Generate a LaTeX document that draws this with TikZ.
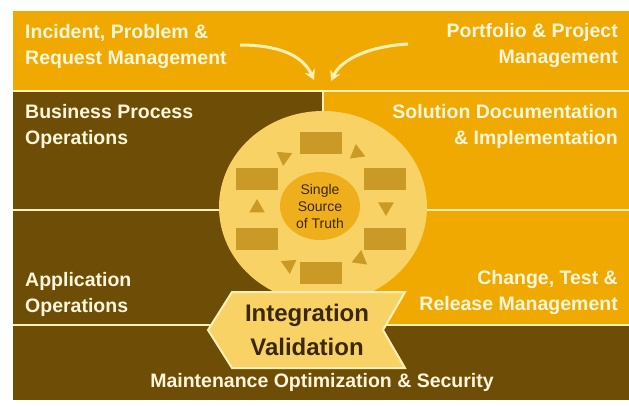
\documentclass[tikz,border=0pt]{standalone}
\usepackage{fontspec}
\setmainfont{Liberation Sans}
\usetikzlibrary{arrows.meta}
\definecolor{bandorange}{HTML}{F0A900}
\definecolor{banddark}{HTML}{6E4E06}
\definecolor{linecream}{HTML}{FFF0B8}
\definecolor{wheellight}{HTML}{F9D266}
\definecolor{huborange}{HTML}{EFAF1C}
\definecolor{slotgold}{HTML}{C99A25}
\definecolor{labelcream}{HTML}{FFF6DC}
\definecolor{inkbrown}{HTML}{3A2805}

\begin{document}
\begin{tikzpicture}[x=1pt,y=-1pt,
	bandtext/.style={text=labelcream, font=\bfseries\fontsize{19.5}{26}\selectfont, inner sep=0pt},
	divider/.style={linecream, line width=2.5pt},
	flowarrow/.style={linecream, line width=3pt, -{Stealth[length=10pt,width=11pt]}}]
	\useasboundingbox (0,0) rectangle (629,406);
	\fill[white] (0,0) rectangle (629,406);
	% bands
	\fill[bandorange] (13,11) rectangle (629,91);
	\fill[banddark] (13,91) rectangle (629,400);
	\fill[bandorange] (323,91) rectangle (629,325);
	\draw[divider] (13,91) -- (629,91);
	\draw[divider] (13,210) -- (629,210);
	\draw[divider] (13,325) -- (629,325);
	\draw[divider] (323,91) -- (323,120);
	% wheel
	\fill[wheellight] (323,207) ellipse [x radius=104, y radius=96];
	\foreach \cx/\cy in {321/143, 257/179, 385/179, 257/239, 385/239, 321/273}
		\fill[slotgold] (\cx-21,\cy-11) rectangle (\cx+21,\cy+11);
	\foreach \cx/\cy/\a in {284/157/95, 357/153/262, 257/208/270, 386/207/90, 289/265/85, 360/259/278}
		\fill[slotgold] (\cx,\cy) +(\a:9) -- +(\a+120:9) -- +(\a+240:9) -- cycle;
	\fill[huborange] (320,206) ellipse [x radius=40, y radius=34];
	\node[text=inkbrown, font=\fontsize{14}{17}\selectfont, align=center] (truth) at (320,206) {Single\\Source\\of Truth};
	% labels
	\node[bandtext, align=left, anchor=west] (incident) at (25,47) {Incident, Problem \&\\Request Management};
	\node[bandtext, align=right, anchor=east] (portfolio) at (618,46) {Portfolio \& Project\\Management};
	\node[bandtext, align=left, anchor=west] (business) at (25,126) {Business Process\\Operations};
	\node[bandtext, align=right, anchor=east] (solution) at (618,126) {Solution Documentation\\\& Implementation};
	\node[bandtext, align=left, anchor=west] (application) at (25,294) {Application\\Operations};
	\node[bandtext, align=right, anchor=east] (change) at (618,292) {Change, Test \&\\Release Management};
	\node[bandtext] (maintenance) at (322,382) {Maintenance Optimization \& Security};
	% integration chevron
	\fill[wheellight, draw=linecream, line width=2pt] (232,292) -- (405,292) -- (383,330) -- (405,368) -- (232,368) -- (208,330) -- cycle;
	\node[text=inkbrown, font=\bfseries\fontsize{24}{34}\selectfont, align=center] (integration) at (307,330) {Integration\\Validation};
	% arrows into the wheel
	\coordinate (incidenttail) at (240,45);
	\coordinate (incidenthead) at (314,80);
	\coordinate (portfoliotail) at (408,44);
	\coordinate (portfoliohead) at (331,81);
	\draw[flowarrow] (incidenttail) .. controls (280,45) and (303,56) .. (incidenthead);
	\draw[flowarrow] (portfoliotail) .. controls (372,46) and (342,58) .. (portfoliohead);
\end{tikzpicture}
\end{document}
